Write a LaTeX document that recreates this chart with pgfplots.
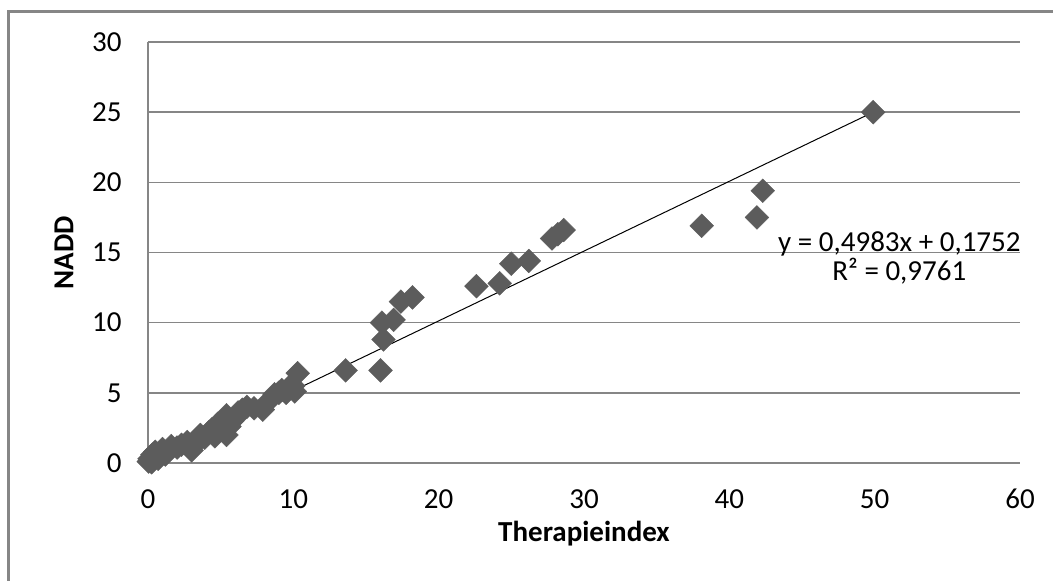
\documentclass[border=0pt]{standalone}
\usepackage{fontspec}
\setmainfont{Carlito}
\usepackage{pgfplots}
\pgfplotsset{compat=1.18}
\definecolor{gridgray}{RGB}{134,134,134}
\definecolor{markgray}{RGB}{92,92,92}
\begin{document}
\begin{tikzpicture}
\useasboundingbox (-74pt,-59pt) rectangle (452.5pt,231.5pt);
\draw[gridgray, line width=1.5pt] (460pt,225.5pt) -- (-69.5pt,225.5pt) -- (-69.5pt,-65pt);
\begin{axis}[
  at={(0pt,0pt)}, anchor=south west,
  scale only axis, width=436pt, height=210.5pt,
  xmin=0, xmax=60, ymin=0, ymax=30,
  xtick={0,10,...,60}, ytick={0,5,...,30},
  axis x line=bottom, axis y line=left,
  axis line style={gridgray, line width=0.6pt, -},
  ymajorgrids, grid style={gridgray, line width=0.75pt},
  major tick length=0pt,
  /pgf/number format/assume math mode=true,
  tick label style={font=\fontsize{14.5}{15}\selectfont, inner sep=0pt, text=black},
  yticklabel style={anchor=east, xshift=-13pt},
  xticklabel style={anchor=north, yshift=-13pt},
  xlabel={\bfseries Therapieindex},
  ylabel={\bfseries NADD},
  label style={font=\fontsize{14.5}{15}\selectfont},
  xlabel style={at={(axis description cs:0.5,-0.1686)}, anchor=center},
  ylabel style={at={(axis description cs:-0.0963,0.5)}, anchor=center},
  clip=false,
]
\addplot[only marks, mark=square*, mark size=4.2pt, mark options={rotate=45, fill=markgray, draw=markgray, line width=0.2pt}] coordinates {
(0.05,0.1) (0.1,0.3) (0.25,0.05) (0.3,0.6) (0.4,0.5) (0.5,0.8) (0.7,0.3) (0.8,0.7)
(1.0,1.0) (1.2,0.6) (1.4,0.9) (1.6,1.2) (2.0,1.1) (2.3,1.3) (2.7,1.5) (3.0,0.9)
(3.4,1.5) (3.6,2.0) (3.9,1.8) (4.2,2.2) (4.4,2.4) (4.6,1.9) (4.8,2.8) (5.0,2.4)
(5.2,3.1) (5.4,2.0) (5.4,3.4) (5.6,2.6) (5.8,3.0) (6.0,3.2) (6.2,3.6) (6.5,3.8) (6.8,4.0)
(7.3,3.9) (7.9,3.8) (8.2,4.3) (8.7,4.9) (9.0,5.0) (9.2,5.2) (9.5,5.0) (9.7,5.4) (10.0,5.5) (10.1,5.1) (10.3,6.4)
(13.6,6.6) (16.0,6.6) (16.2,8.8) (16.1,10.0) (16.9,10.2) (17.4,11.5)
(18.2,11.8) (22.6,12.6) (24.2,12.8) (25.0,14.2) (26.2,14.4) (27.8,16.0)
(28.2,16.3) (28.6,16.6) (38.1,16.9) (41.9,17.5) (42.3,19.4) (49.9,25.0)
};
\addplot[black, line width=0.5pt] coordinates {(0,0.1752) (49.9,25.0)};
\node[align=center, font=\fontsize{14.5}{14.5}\selectfont, inner sep=0pt] at (axis cs:51.7,14.64) {y = 0,4983x + 0,1752\\R² = 0,9761};
\end{axis}
\end{tikzpicture}
\end{document}
